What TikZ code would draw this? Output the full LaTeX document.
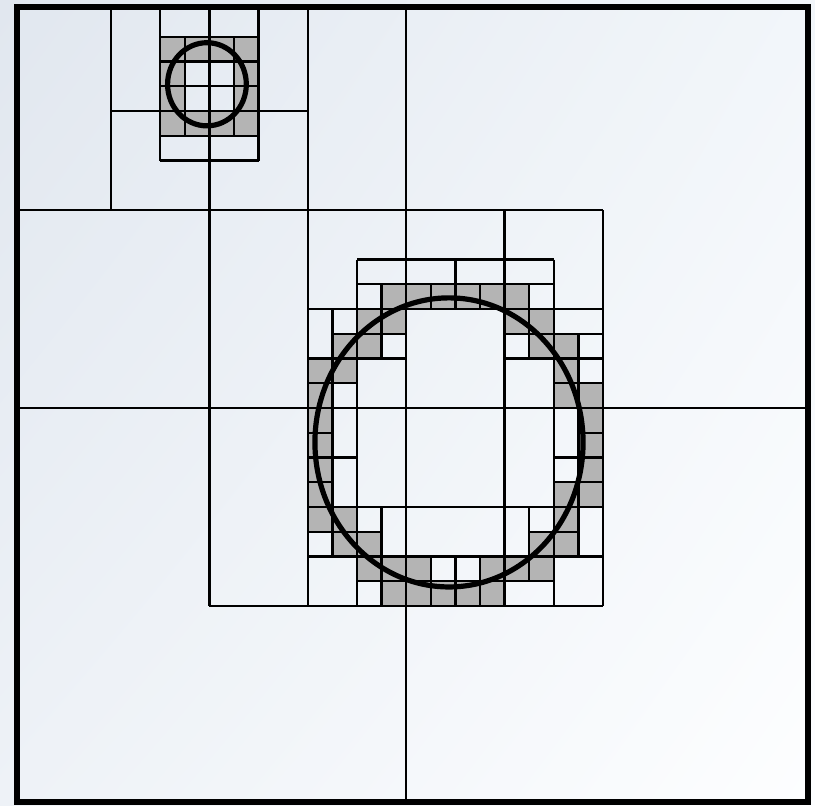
\documentclass[tikz,border=0pt]{standalone}
\usetikzlibrary{shadings}
\definecolor{bgUL}{HTML}{E1E7EF}
\definecolor{bgUR}{HTML}{F2F6FA}
\definecolor{bgLL}{HTML}{EEF2F7}
\definecolor{bgLR}{HTML}{FDFEFF}
\definecolor{cellgray}{HTML}{B4B4B4}
\begin{document}
\begin{tikzpicture}[x=0.5pt,y=-0.5pt,
  gridline/.style={line width=1.2pt, black},
  cellfill/.style={fill=cellgray},
  ring/.style={line width=2.6pt, black},
  frameline/.style={line width=3.2pt, black}]
\useasboundingbox (0,0) rectangle (815,805);
\shade[upper left=bgUL, upper right=bgUR, lower left=bgLL, lower right=bgLR] (0,0) rectangle (815,805);
\begin{scope}
\clip (17,7) rectangle (808,802);
\begin{scope}[shift={(6.3pt,-6pt)}, x=12.3pt, y=-12.375pt]
  % gray cells, small grid
  \foreach \cx/\cy in {6/1,7/1,8/1,9/1,6/2,9/2,6/3,9/3,6/4,7/4,8/4,9/4}
    \fill[cellfill] (\cx,\cy) rectangle ++(1,1);
  % gray cells, large grid
  \foreach \cx/\cy in {15/11,16/11,17/11,18/11,19/11,20/11,
    14/12,15/12,20/12,21/12,
    13/13,14/13,21/13,22/13,
    12/14,13/14,22/14,
    12/15,22/15,23/15,
    12/16,23/16,12/17,23/17,12/18,23/18,
    12/19,22/19,23/19,
    12/20,13/20,22/20,
    13/21,14/21,21/21,22/21,
    14/22,15/22,16/22,19/22,20/22,21/22,
    15/23,16/23,17/23,18/23,19/23}
    \fill[cellfill] (\cx,\cy) rectangle ++(1,1);
  % horizontal lines
  \foreach \yy/\xa/\xb in {1/6/10,2/6/10,3/6/10,4/4/12,5/6/10,6/6/10,
    8/-1/24,10/14/22,11/14/22,12/12/24,
    13/13/16,13/20/24,14/12/16,14/20/24,15/12/14,15/22/24,
    16/-1/33,17/12/13,17/23/24,18/12/14,18/22/24,19/12/13,19/22/24,
    20/12/24,21/12/15,21/21/23,22/12/24,23/14/22,24/8/24}
    \draw[gridline] (\xa,\yy) -- (\xb,\yy);
  % vertical lines
  \foreach \xx/\ya/\yb in {4/-1/8,6/-1/6,7/1/5,8/-1/24,9/1/5,10/-1/6,
    12/-1/24,13/12/22,14/10/24,15/11/14,15/20/24,16/-1/33,
    17/11/12,17/22/24,18/10/12,18/22/24,19/11/12,19/22/24,
    20/8/24,21/11/14,21/20/23,22/10/24,23/13/22,24/8/24}
    \draw[gridline] (\xx,\ya) -- (\xx,\yb);
  % circles
  \draw[ring] (7.9,2.92) ellipse [x radius=1.6, y radius=1.68];
  \draw[ring] (17.74,17.39) ellipse [x radius=5.45, y radius=5.84];
\end{scope}
\end{scope}
\draw[frameline] (17,7) rectangle (808,802);
\end{tikzpicture}
\end{document}
